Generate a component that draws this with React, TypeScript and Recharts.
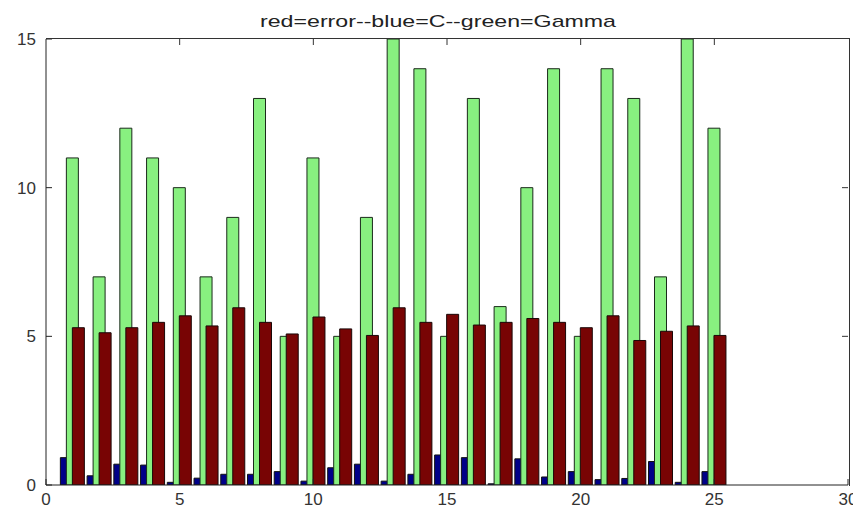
import React from 'react'
import { Bar, BarChart, XAxis, YAxis } from 'recharts'

const groups = [1, 2, 3, 4, 5, 6, 7, 8, 9, 10, 11, 12, 13, 14, 15, 16, 17, 18, 19, 20, 21, 22, 23, 24, 25]
const cValues = [0.92, 0.31, 0.7, 0.67, 0.09, 0.23, 0.36, 0.36, 0.45, 0.13, 0.58, 0.7, 0.13, 0.36, 1.01, 0.92, 0.04, 0.88, 0.27, 0.45, 0.18, 0.22, 0.79, 0.09, 0.45]
const gammaValues = [11, 7, 12, 11, 10, 7, 9, 13, 5, 11, 5, 9, 15, 14, 5, 13, 6, 10, 14, 5, 14, 13, 7, 15, 12]
const errorValues = [5.29, 5.12, 5.29, 5.47, 5.69, 5.35, 5.96, 5.47, 5.08, 5.65, 5.25, 5.03, 5.96, 5.47, 5.74, 5.38, 5.47, 5.6, 5.47, 5.29, 5.69, 4.86, 5.17, 5.35, 5.03]
const xTicks = [0, 5, 10, 15, 20, 25, 30]
const yTicks = [0, 5, 10, 15]
const title = 'red=error--blue=C--green=Gamma'

const data = groups.map((g, i) => ({ x: g, C: cValues[i], Gamma: gammaValues[i], error: errorValues[i] }))

const W = 853
const H = 502
const M = { top: 31, right: 13, left: 0, bottom: 0 }
const Y_AXIS_W = 38
const X_AXIS_H = 25
const X_MAX = 30
const Y_MAX = 15
// plot box, only for the top/right edges of the MATLAB-style frame
const PL = M.left + Y_AXIS_W
const PT = M.top
const PR = W - M.right
const PB = H - M.bottom - X_AXIS_H
const tickFont = { fontFamily: 'Liberation Sans, Arial, sans-serif', fontSize: 17, fill: '#333' }

function Frame() {
  const sx = (v: number) => PL + (v / X_MAX) * (PR - PL)
  const sy = (v: number) => PB - (v / Y_MAX) * (PB - PT)
  return (
    <>
      <div style={{ position: 'absolute', left: PL, top: PT - 1, width: PR - PL + 1, height: PB - PT + 1,
        borderTop: '1px solid #333', borderRight: '1px solid #333', zIndex: 5, pointerEvents: 'none' }} />
      <svg width={W} height={H} style={{ position: 'absolute', left: 0, top: 0, zIndex: 6, pointerEvents: 'none' }}>
        {xTicks.slice(1, -1).map((t) => (
          <line key={'tx' + t} x1={sx(t)} y1={PT} x2={sx(t)} y2={PT + 6} stroke="#333" strokeWidth={1} />
        ))}
        {yTicks.slice(1, -1).map((t) => (
          <line key={'ty' + t} x1={PR} y1={sy(t)} x2={PR - 6} y2={sy(t)} stroke="#333" strokeWidth={1} />
        ))}
      </svg>
    </>
  )
}

export default function App() {
  return (
    <div style={{ position: 'relative', width: W, height: H }}>
      <svg width={W} height={40} style={{ position: 'absolute', left: 0, top: 0 }}>
        <text x={430} y={19} textAnchor="middle" textLength={356} lengthAdjust="spacingAndGlyphs"
          style={{ fontFamily: 'Liberation Sans, Arial, sans-serif', fontSize: 17, fill: '#222' }}>
          {title}
        </text>
      </svg>
      <BarChart width={W} height={H} data={data} barGap={-6} margin={M}>
        <XAxis dataKey="x" type="number" domain={[0, X_MAX]} ticks={xTicks} height={X_AXIS_H}
          tickSize={-6} tickMargin={14} tick={tickFont} stroke="#222" allowDataOverflow />
        <YAxis type="number" domain={[0, Y_MAX]} ticks={yTicks} width={Y_AXIS_W}
          tickSize={-6} tickMargin={16} tick={tickFont} stroke="#222" allowDataOverflow />
        <Bar dataKey="C" barSize={12} fill="#000088" stroke="#111" isAnimationActive={false} />
        <Bar dataKey="Gamma" barSize={12} fill="#88f080" stroke="#1a2a1a" isAnimationActive={false} />
        <Bar dataKey="error" barSize={12} fill="#780404" stroke="#1a0808" isAnimationActive={false} />
      </BarChart>
      <Frame />
    </div>
  )
}
